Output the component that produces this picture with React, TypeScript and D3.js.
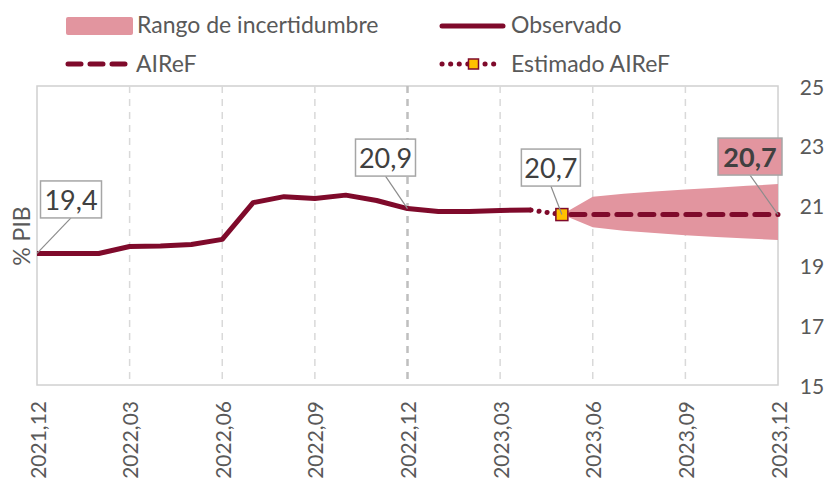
import * as d3 from "d3";
import React from "react";

// meses desde 2021,12 (indice 0) hasta 2023,12 (indice 24)
const tickLabels = ["2021,12", "2022,03", "2022,06", "2022,09", "2022,12", "2023,03", "2023,06", "2023,09", "2023,12"];
const yTicks = [15, 17, 19, 21, 23, 25];

// Observado: 2021,12 .. 2023,04
const observado = [19.4, 19.4, 19.4, 19.63, 19.65, 19.7, 19.87, 21.1, 21.3, 21.24, 21.35, 21.17, 20.9, 20.8, 20.8, 20.84, 20.85];
// Estimado AIReF: 2023,04 .. 2023,05
const estimado = [20.85, 20.7];
// AIReF: 2023,05 .. 2023,12
const airef = [20.7, 20.7, 20.7, 20.7, 20.7, 20.7, 20.7, 20.7];
const bandaSup = [20.7, 21.3, 21.4, 21.47, 21.54, 21.6, 21.66, 21.72];
const bandaInf = [20.7, 20.28, 20.16, 20.08, 20.01, 19.95, 19.9, 19.85];

const RED = "#7f0a2b";
const PINK = "#e2959f";
const GREY_TXT = "#595959";
const FONT = "Lato, 'Open Sans', sans-serif";

const W = 827;
const H = 484;

export default function App() {
  const x = d3.scaleLinear().domain([0, 24]).range([37, 778]);
  const y = d3.scaleLinear().domain([15, 25]).range([385, 86]);

  const line = d3
    .line<[number, number]>()
    .x((d) => x(d[0]))
    .y((d) => y(d[1]));

  const obsPts: [number, number][] = observado.map((v, i) => [i, v]);
  const estPts: [number, number][] = estimado.map((v, i) => [16 + i, v]);
  const airefPts: [number, number][] = airef.map((v, i) => [17 + i, v]);

  const area = d3
    .area<number>()
    .x((_, i) => x(17 + i))
    .y0((_, i) => y(bandaInf[i]))
    .y1((d) => y(d));

  // etiquetas de datos
  const labels = [
    { i: 0, v: observado[0], dx: 34, dy: -54, w: 61, bold: false },
    { i: 12, v: observado[12], dx: -22, dy: -51, w: 60, bold: false },
    { i: 17, v: estimado[1], dx: -11, dy: -47, w: 59, bold: false },
    { i: 24, v: airef[7], dx: -28, dy: -58, w: 64, bold: true },
  ];

  const gridIdx = [3, 6, 9, 12, 15, 18, 21];

  return (
    <svg
      width={W}
      height={H}
      style={{ position: "absolute", left: 0, top: 0, background: "#fff" }}
      fontFamily={FONT}
    >
      {/* legend */}
      <g fill={GREY_TXT} fontSize={23}>
        <rect x={66} y={17} width={67} height={18} rx={2} fill={PINK} />
        <text x={137} y={33}>Rango de incertidumbre</text>
        <line x1={442} x2={503} y1={26} y2={26} stroke={RED} strokeWidth={5} strokeLinecap="round" />
        <text x={511} y={33}>Observado</text>
        <line x1={68} x2={125} y1={64} y2={64} stroke={RED} strokeWidth={5} strokeLinecap="round" strokeDasharray="13 9" />
        <text x={136} y={72}>AIReF</text>
        <line x1={442} x2={500} y1={64} y2={64} stroke={RED} strokeWidth={5} strokeLinecap="round" strokeDasharray="0.1 8.5" />
        <rect x={468.5} y={59} width={10} height={10} fill="#ffc000" stroke={RED} strokeWidth={1.5} />
        <text x={511} y={72}>Estimado AIReF</text>
      </g>

      {/* plot frame and grid */}
      <rect x={x(0)} y={y(25)} width={x(24) - x(0)} height={y(15) - y(25)} fill="none" stroke="#d0d0d0" strokeWidth={1.5} />
      {gridIdx.map((i) => (
        <line
          key={i}
          x1={x(i)}
          x2={x(i)}
          y1={y(25)}
          y2={y(15)}
          stroke={i === 12 ? "#bfbfbf" : "#d9d9d9"}
          strokeWidth={i === 12 ? 2.5 : 1.5}
          strokeDasharray="7 6"
        />
      ))}

      {/* uncertainty band */}
      <path d={area(bandaSup) ?? ""} fill={PINK} />

      {/* series */}
      <path d={line(obsPts) ?? ""} fill="none" stroke={RED} strokeWidth={5} strokeLinejoin="round" />
      <path d={line(estPts) ?? ""} fill="none" stroke={RED} strokeWidth={5} strokeLinecap="round" strokeDasharray="0.1 8" />
      <path d={line(airefPts) ?? ""} fill="none" stroke={RED} strokeWidth={5} strokeLinecap="round" strokeDasharray="14 9" strokeDashoffset={14} />
      <rect x={x(17) - 6} y={y(estimado[1]) - 6} width={12} height={12} fill="#ffc000" stroke={RED} strokeWidth={1.5} />

      {/* data labels */}
      {labels.map((l, k) => {
        const px = x(l.i);
        const py = y(l.v);
        const cx = px + l.dx;
        const cy = py + l.dy;
        const h = 37;
        return (
          <g key={k}>
            <line x1={cx} y1={cy + h / 2} x2={px} y2={py} stroke="#8c8c8c" strokeWidth={1.2} />
            <rect x={cx - l.w / 2} y={cy - h / 2} width={l.w} height={h} fill={l.bold ? PINK : "#fff"} stroke="#a6a6a6" strokeWidth={1.5} />
            <text
              x={cx}
              y={cy}
              textAnchor="middle"
              dominantBaseline="central"
              fontSize={27}
              fontWeight={l.bold ? 700 : 400}
              fill="#404040"
            >
              {d3.format(".1f")(l.v).replace(".", ",")}
            </text>
          </g>
        );
      })}

      {/* right y axis */}
      <g fill={GREY_TXT} fontSize={21}>
        {yTicks.map((t) => (
          <text key={t} x={812} y={y(t)} textAnchor="middle" dominantBaseline="central">
            {t}
          </text>
        ))}
      </g>

      {/* x axis labels */}
      <g fill={GREY_TXT} fontSize={21}>
        {tickLabels.map((t, k) => (
          <text key={t} transform={`translate(${x(k * 3)},401) rotate(-90)`} textAnchor="end" dominantBaseline="central">
            {t}
          </text>
        ))}
      </g>

      {/* y axis title */}
      <text transform="translate(21,236) rotate(-90)" textAnchor="middle" dominantBaseline="central" fontSize={23} fill={GREY_TXT}>
        % PIB
      </text>
    </svg>
  );
}
